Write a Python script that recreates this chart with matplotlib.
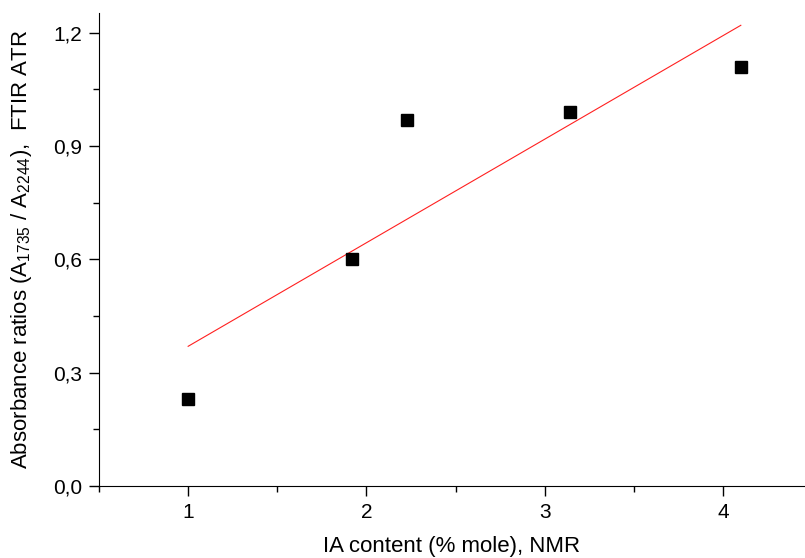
import matplotlib
matplotlib.use("Agg")
import matplotlib.pyplot as plt
from matplotlib.ticker import MultipleLocator, FuncFormatter

# data
ia_content = [1.0, 1.92, 2.23, 3.14, 4.10]
abs_ratio = [0.23, 0.60, 0.97, 0.99, 1.11]
fit_x = [1.0, 4.10]
fit_y = [0.37, 1.22]

plt.rcParams["font.family"] = ["Liberation Sans", "DejaVu Sans"]
plt.rcParams["mathtext.fontset"] = "custom"
plt.rcParams["mathtext.rm"] = "Liberation Sans"

fig = plt.figure(figsize=(8.05, 5.58), dpi=100)
ax = fig.add_axes([0.123, 0.129, 0.877, 0.848])

ax.plot(fit_x, fit_y, color="#ff2020", lw=0.8)
ax.plot(ia_content, abs_ratio, "s", color="black", ms=8, ls="none")

ax.set_xlim(0.5, 4.46)
ax.set_ylim(0.0, 1.253)
ax.xaxis.set_major_locator(MultipleLocator(1))
ax.xaxis.set_minor_locator(MultipleLocator(0.5))
ax.yaxis.set_major_locator(MultipleLocator(0.3))
ax.yaxis.set_minor_locator(MultipleLocator(0.15))
ax.yaxis.set_major_formatter(FuncFormatter(lambda v, p: f"{v:.1f}".replace(".", ",")))

for s in ("top", "right"):
    ax.spines[s].set_visible(False)
ax.tick_params(which="major", direction="out", length=7, width=1, labelsize=15, pad=5)
ax.tick_params(which="minor", direction="out", length=4.5, width=1)

ax.set_xlabel("IA content (% mole), NMR", fontsize=16, labelpad=10)
ax.set_ylabel(r"Absorbance ratios (A$_{\mathregular{1735}}$ / A$_{\mathregular{2244}}$),  FTIR ATR",
              fontsize=16, labelpad=14)

fig.savefig("out.png", dpi=100)
